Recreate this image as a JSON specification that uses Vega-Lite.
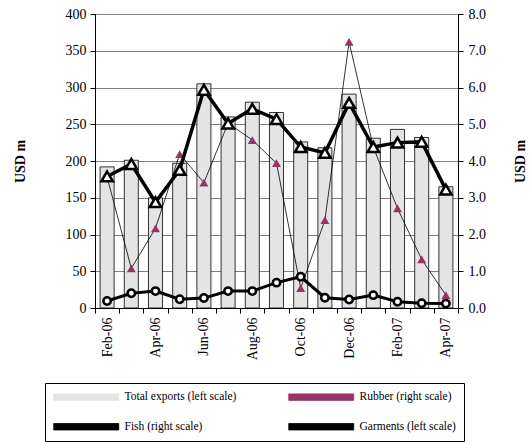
{
  "$schema": "https://vega.github.io/schema/vega-lite/v6.json",
  "width": 363,
  "height": 294,
  "autosize": {"type": "none"},
  "padding": {"left": 95, "top": 14, "right": 73, "bottom": 135},
  "background": "white",
  "config": {
    "font": "Liberation Serif, Times New Roman, serif",
    "view": {"stroke": "black", "strokeWidth": 1},
    "axis": {
      "labelFont": "Liberation Serif, Times New Roman, serif", "labelFontSize": 14, "labelColor": "black",
      "domainColor": "black", "tickColor": "black",
      "titleFont": "Liberation Serif, Times New Roman, serif", "titleFontSize": 14, "titleFontWeight": "bold", "titleColor": "black",
      "gridColor": "#808080", "gridOpacity": 1, "labelOverlap": false
    },
    "legend": {
      "orient": "none", "legendX": -50, "legendY": 369,
      "columns": 2, "title": null, "strokeColor": "black", "padding": 8,
      "columnPadding": 36, "rowPadding": 17, "gridAlign": "all",
      "labelFont": "Liberation Serif, Times New Roman, serif", "labelFontSize": 11.5, "labelColor": "black", "labelLimit": 0,
      "labelOffset": 60, "symbolSize": 100, "symbolType": "M-3.8,0M-1,-0.65H12V0.65H-1Z",
      "symbolStrokeColor": "black", "symbolStrokeWidth": 0.8, "symbolOpacity": 1
    }
  },
  "data": {"values": [
    {"month": "Feb-06", "total": 192, "garments": 179, "rubber": 3.56, "fish": 0.19},
    {"month": "Mar-06", "total": 201, "garments": 196, "rubber": 1.08, "fish": 0.40},
    {"month": "Apr-06", "total": 150, "garments": 144, "rubber": 2.17, "fish": 0.46},
    {"month": "May-06", "total": 197, "garments": 188, "rubber": 4.19, "fish": 0.24},
    {"month": "Jun-06", "total": 305, "garments": 297, "rubber": 3.41, "fish": 0.27},
    {"month": "Jul-06", "total": 260, "garments": 251, "rubber": 5.03, "fish": 0.46},
    {"month": "Aug-06", "total": 280, "garments": 271, "rubber": 4.57, "fish": 0.46},
    {"month": "Sep-06", "total": 266, "garments": 257, "rubber": 3.94, "fish": 0.69},
    {"month": "Oct-06", "total": 226, "garments": 219, "rubber": 0.54, "fish": 0.85},
    {"month": "Nov-06", "total": 218, "garments": 211, "rubber": 2.39, "fish": 0.28},
    {"month": "Dec-06", "total": 291, "garments": 279, "rubber": 7.24, "fish": 0.23},
    {"month": "Jan-07", "total": 231, "garments": 219, "rubber": 4.38, "fish": 0.35},
    {"month": "Feb-07", "total": 243, "garments": 225, "rubber": 2.71, "fish": 0.17},
    {"month": "Mar-07", "total": 232, "garments": 226, "rubber": 1.32, "fish": 0.13},
    {"month": "Apr-07", "total": 165, "garments": 161, "rubber": 0.35, "fish": 0.12}
  ]},
  "layer": [
    {
      "mark": {"type": "bar", "width": {"band": 0.58}, "stroke": "black", "strokeWidth": 0.8},
      "encoding": {
        "x": {"field": "month", "type": "ordinal", "sort": null,
              "scale": {"paddingInner": 0, "paddingOuter": 0},
              "axis": {"title": null, "labelAngle": -90, "tickBand": "extent", "tickSize": 5, "labelPadding": 4,
                       "labelExpr": "indexof(['Feb-06','Apr-06','Jun-06','Aug-06','Oct-06','Dec-06','Feb-07','Apr-07'], datum.value) >= 0 ? datum.value : ''",
                       "labelBaseline": "middle", "labelAlign": "right"}},
        "y": {"field": "total", "type": "quantitative", "scale": {"domain": [0, 400]},
              "axis": {"title": "USD m", "values": [0, 50, 100, 150, 200, 250, 300, 350, 400], "grid": true, "tickSize": 5, "labelPadding": 4, "titlePadding": 38}},
        "color": {"datum": "Total exports (left scale)",
                  "scale": {"domain": ["Total exports (left scale)", "Fish (right scale)", "Rubber (right scale)", "Garments (left scale)"],
                            "range": ["#e4e4e4", "black", "#993366", "black"]},
                  "legend": {"symbolType": "M-3.8,0M-1,-0.65H12V0.65H-1Z", "columns": 2}}
      }
    },
    {
      "encoding": {
        "x": {"field": "month", "type": "ordinal", "sort": null}
      },
      "layer": [
        {"mark": {"type": "line", "color": "black", "strokeWidth": 0.8},
         "encoding": {"y": {"field": "rubber", "type": "quantitative", "scale": {"domain": [0, 8]},
                            "axis": {"orient": "right", "title": "USD m", "titleAngle": 270, "values": [0,1,2,3,4,5,6,7,8], "format": ".1f", "tickSize": 5, "labelPadding": 5, "titlePadding": 42}}}},
        {"mark": {"type": "point", "shape": "triangle-up", "filled": true, "size": 80, "opacity": 1},
         "encoding": {"y": {"field": "rubber", "type": "quantitative",
                            "axis": {"orient": "right", "title": "USD m", "titleAngle": 270, "values": [0,1,2,3,4,5,6,7,8], "format": ".1f", "tickSize": 5, "labelPadding": 5, "titlePadding": 42}},
                      "color": {"datum": "Rubber (right scale)"}}},
        {"mark": {"type": "line", "strokeWidth": 3},
         "encoding": {"y": {"field": "fish", "type": "quantitative",
                            "axis": {"orient": "right", "title": "USD m", "titleAngle": 270, "values": [0,1,2,3,4,5,6,7,8], "format": ".1f", "tickSize": 5, "labelPadding": 5, "titlePadding": 42}},
                      "color": {"datum": "Fish (right scale)"}}},
        {"mark": {"type": "point", "shape": "circle", "filled": true, "fill": "white", "stroke": "black", "strokeWidth": 2.5, "size": 55, "opacity": 1},
         "encoding": {"y": {"field": "fish", "type": "quantitative",
                            "axis": {"orient": "right", "title": "USD m", "titleAngle": 270, "values": [0,1,2,3,4,5,6,7,8], "format": ".1f", "tickSize": 5, "labelPadding": 5, "titlePadding": 42}}}}
      ]
    },
    {
      "encoding": {
        "x": {"field": "month", "type": "ordinal", "sort": null},
        "y": {"field": "garments", "type": "quantitative", "scale": {"domain": [0, 400]}, "axis": null}
      },
      "layer": [
        {"mark": {"type": "line", "strokeWidth": 3.5},
         "encoding": {"color": {"datum": "Garments (left scale)"}}},
        {"mark": {"type": "point", "shape": "triangle-up", "filled": true, "fill": "white", "stroke": "black", "strokeWidth": 2.5, "size": 130, "opacity": 1},
         "encoding": {}}
      ]
    }
  ],
  "resolve": {"scale": {"y": "independent"}}
}
